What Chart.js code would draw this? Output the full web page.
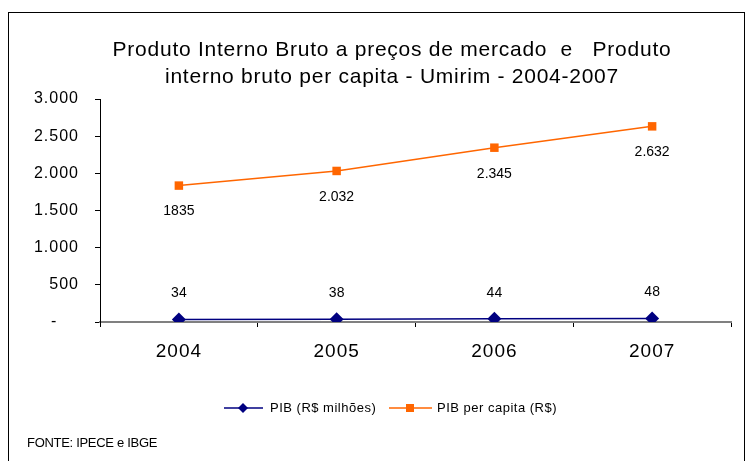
<!DOCTYPE html>
<html>
<head>
<meta charset="utf-8">
<script src="https://cdn.jsdelivr.net/npm/chart.js@4.4.1/dist/chart.umd.min.js"></script>
<style>
  html, body { margin: 0; padding: 0; background: #fff; }
  #wrap { position: relative; width: 752px; height: 461px; overflow: hidden; }
  #frame { position: absolute; left: 8px; top: 12px; width: 737px; height: 470px; border: 1.5px solid #000; box-sizing: border-box; }
  #fonte { position: absolute; left: 27px; top: 435px; font: 13px "Liberation Sans", Arial, sans-serif; letter-spacing: -0.3px; color: #000; }
  canvas { position: absolute; left: 0; top: 0; }
</style>
</head>
<body>
<div id="wrap">
  <div id="frame"></div>
  <canvas id="chart" width="752" height="461"></canvas>
  <div id="fonte">FONTE: IPECE e IBGE</div>
</div>
<script>
// dados
const anos = ['2004', '2005', '2006', '2007'];
const pibMilhoes = [34, 38, 44, 48];
const pibPerCapita = [1835, 2032, 2345, 2632];
const rotulosPib = ['34', '38', '44', '48'];
const rotulosPerCapita = ['1835', '2.032', '2.345', '2.632'];
const ticksY = ['-', '500', '1.000', '1.500', '2.000', '2.500', '3.000'];

const titulo = ['Produto Interno Bruto a preços de mercado  e   Produto', 'interno bruto per capita - Umirim - 2004-2007'];
const FONT = '"Liberation Sans", Arial, sans-serif';

// espaçamento das letras dos eixos (o original é um pouco mais largo)
const espacamento = {
  id: 'espacamento',
  beforeDraw(chart) {
    chart.ctx.letterSpacing = '1px';
  }
};

// desenha título, rótulos de dados e legenda
const extras = {
  id: 'extras',
  afterDraw(chart) {
    const ctx = chart.ctx;
    ctx.save();
    ctx.fillStyle = '#000';
    ctx.textAlign = 'center';
    ctx.textBaseline = 'middle';
    ctx.font = '21px ' + FONT;
    ctx.letterSpacing = '0.75px';
    ctx.fillText(titulo[0], 392, 50);
    ctx.fillText(titulo[1], 392, 77);

    // rótulos de dados
    ctx.font = '14px ' + FONT;
    ctx.letterSpacing = '0px';
    chart.getDatasetMeta(1).data.forEach((p, i) => {
      ctx.fillText(rotulosPerCapita[i], p.x, p.y + 26);
    });
    chart.getDatasetMeta(0).data.forEach((p, i) => {
      ctx.fillText(rotulosPib[i], p.x, p.y - 26);
    });

    // legenda
    const ly = 408;
    ctx.font = '13px ' + FONT;
    ctx.letterSpacing = '0.5px';
    ctx.textAlign = 'left';
    ctx.lineWidth = 1.5;
    ctx.strokeStyle = '#000080';
    ctx.beginPath(); ctx.moveTo(224, ly); ctx.lineTo(263, ly); ctx.stroke();
    ctx.fillStyle = '#000080';
    ctx.beginPath();
    ctx.moveTo(243, ly - 5); ctx.lineTo(248, ly); ctx.lineTo(243, ly + 5); ctx.lineTo(238, ly);
    ctx.closePath(); ctx.fill();
    ctx.fillStyle = '#000';
    ctx.fillText('PIB (R$ milhões)', 270, ly);

    ctx.strokeStyle = '#FF6600';
    ctx.beginPath(); ctx.moveTo(389, ly); ctx.lineTo(432, ly); ctx.stroke();
    ctx.fillStyle = '#FF6600';
    ctx.fillRect(406, ly - 4, 8, 8);
    ctx.fillStyle = '#000';
    ctx.fillText('PIB per capita (R$)', 437, ly);
    ctx.restore();
  }
};

new Chart(document.getElementById('chart'), {
  type: 'line',
  data: {
    labels: anos,
    datasets: [
      {
        label: 'PIB (R$ milhões)',
        data: pibMilhoes,
        borderColor: '#000080',
        backgroundColor: '#000080',
        borderWidth: 1.5,
        pointStyle: 'rectRot',
        pointRadius: 7,
        pointBorderWidth: 0,
        tension: 0
      },
      {
        label: 'PIB per capita (R$)',
        data: pibPerCapita,
        borderColor: '#FF6600',
        backgroundColor: '#FF6600',
        borderWidth: 1.5,
        pointStyle: 'rect',
        pointRadius: 6,
        pointBorderWidth: 0,
        tension: 0
      }
    ]
  },
  options: {
    responsive: false,
    animation: false,
    layout: { padding: { top: 99, right: 21, bottom: 89, left: 0 } },
    plugins: {
      legend: { display: false },
      title: { display: false },
      tooltip: { enabled: false }
    },
    scales: {
      x: {
        offset: true,
        grid: { offset: true, drawOnChartArea: false, drawTicks: true, tickLength: 5, color: '#000' },
        border: { color: '#808080', width: 2 },
        ticks: { color: '#000', font: { family: FONT, size: 19 }, padding: 13 },
        afterFit(s) { s.height = 50; }
      },
      y: {
        min: 0,
        max: 3000,
        grid: { drawOnChartArea: false, drawTicks: true, tickLength: 5, color: '#000' },
        border: { color: '#000', width: 1 },
        ticks: {
          stepSize: 500,
          color: '#000',
          padding: 16,
          font: { family: FONT, size: 16 },
          callback: (v, i) => ticksY[i] === '-' ? '-    ' : ticksY[i]
        },
        afterFit(s) { s.width = 100; }
      }
    }
  },
  plugins: [espacamento, extras]
});
</script>
</body>
</html>
